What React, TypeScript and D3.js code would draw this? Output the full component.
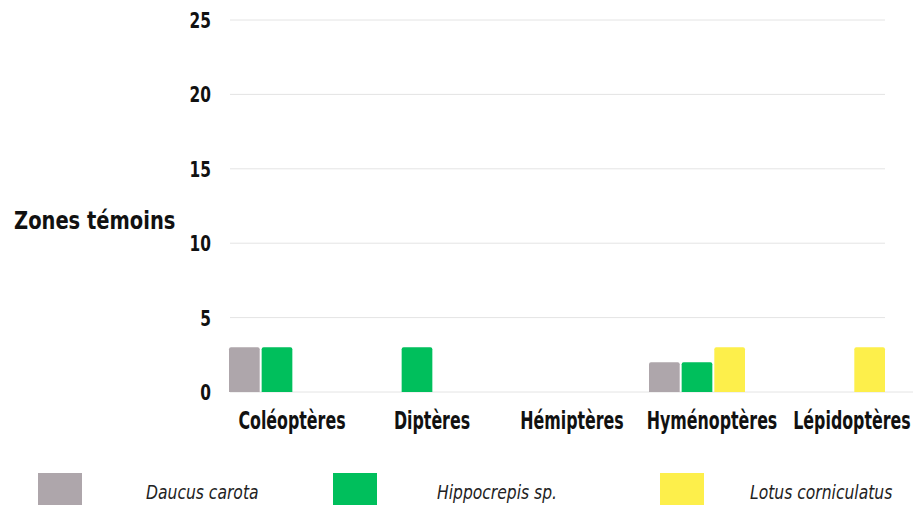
import * as d3 from 'd3';
import React, { useEffect, useRef } from 'react';

const categories = ['Coléoptères', 'Diptères', 'Hémiptères', 'Hyménoptères', 'Lépidoptères'];
const series = ['Daucus carota', 'Hippocrepis sp.', 'Lotus corniculatus'];
const daucus = [3, 0, 0, 2, 0];
const hippocrepis = [3, 3, 0, 2, 0];
const lotus = [0, 0, 0, 3, 3];
const yTicks = [0, 5, 10, 15, 20, 25];
const colors = ['#aea6ab', '#00bf5c', '#fdef4b'];
const yTitle = 'Zones témoins';

const W = 917;
const H = 505;
const FONT = "'DejaVu Sans', sans-serif";

export default function App() {
  const ref = useRef<SVGSVGElement>(null);

  useEffect(() => {
    const svg = d3.select(ref.current);
    svg.selectAll('*').remove();

    const values = [daucus, hippocrepis, lotus];

    const x = d3.scaleBand().domain(categories).range([229, 915]).paddingInner(0.1).paddingOuter(0);
    const xs = d3.scaleBand().domain(series).range([0, 96]).paddingInner(0.06);
    const y = d3.scaleLinear().domain([0, 25]).range([392, 20]);

    // grid lines
    svg.append('g')
      .selectAll('line')
      .data(yTicks)
      .enter()
      .append('line')
      .attr('x1', 230)
      .attr('x2', d => (d === 0 ? 913 : 885))
      .attr('y1', d => y(d))
      .attr('y2', d => y(d))
      .attr('stroke', '#e4e4e4')
      .attr('stroke-width', 1);

    // y tick labels (squeezed to mimic the condensed face)
    svg.append('g')
      .selectAll('text')
      .data(yTicks)
      .enter()
      .append('text')
      .attr('transform', d => `translate(211,${y(d)}) scale(0.7,1)`)
      .attr('dy', '0.36em')
      .attr('text-anchor', 'end')
      .style('font-family', FONT)
      .style('font-weight', 'bold')
      .style('font-size', '22px')
      .attr('fill', '#111')
      .text(d => d);

    // y title
    svg.append('text')
      .attr('transform', 'translate(14,229) scale(0.78,1)')
      .style('font-family', FONT)
      .style('font-weight', 'bold')
      .style('font-size', '25px')
      .attr('fill', '#111')
      .text(yTitle);

    // bars
    series.forEach((s, si) => {
      svg.append('g')
        .selectAll('path')
        .data(values[si].map((v, i) => ({ cat: categories[i], v })).filter(d => d.v > 0))
        .enter()
        .append('path')
        .attr('fill', colors[si])
        .attr('d', d => {
          const x0 = (x(d.cat) as number) + (xs(s) as number);
          const w = xs.bandwidth();
          const y0 = y(d.v);
          const y1 = y(0);
          const r = 2;
          return `M${x0},${y1}V${y0 + r}Q${x0},${y0} ${x0 + r},${y0}H${x0 + w - r}Q${x0 + w},${y0} ${x0 + w},${y0 + r}V${y1}Z`;
        });
    });

    // category labels
    svg.append('g')
      .selectAll('text')
      .data(categories)
      .enter()
      .append('text')
      .attr('transform', d => `translate(${(x(d) as number) + x.bandwidth() / 2},429) scale(0.66,1)`)
      .attr('text-anchor', 'middle')
      .style('font-family', FONT)
      .style('font-weight', 'bold')
      .style('font-size', '24px')
      .attr('fill', '#111')
      .text(d => d);

    // legend
    const legX = [38, 333, 660];
    const legTextX = [146, 437, 750];
    const leg = svg.append('g');
    series.forEach((s, i) => {
      leg.append('rect')
        .attr('x', legX[i])
        .attr('y', 473)
        .attr('width', 44)
        .attr('height', 34)
        .attr('fill', colors[i]);
      leg.append('text')
        .attr('transform', `translate(${legTextX[i]},499) scale(0.82,1)`)
        .style('font-family', FONT)
        .style('font-style', 'italic')
        .style('font-size', '19px')
        .attr('fill', '#222')
        .text(s);
    });
  }, []);

  return (
    <svg
      ref={ref}
      width={W}
      height={H}
      style={{ position: 'absolute', left: 0, top: 0, background: '#fff' }}
    />
  );
}
